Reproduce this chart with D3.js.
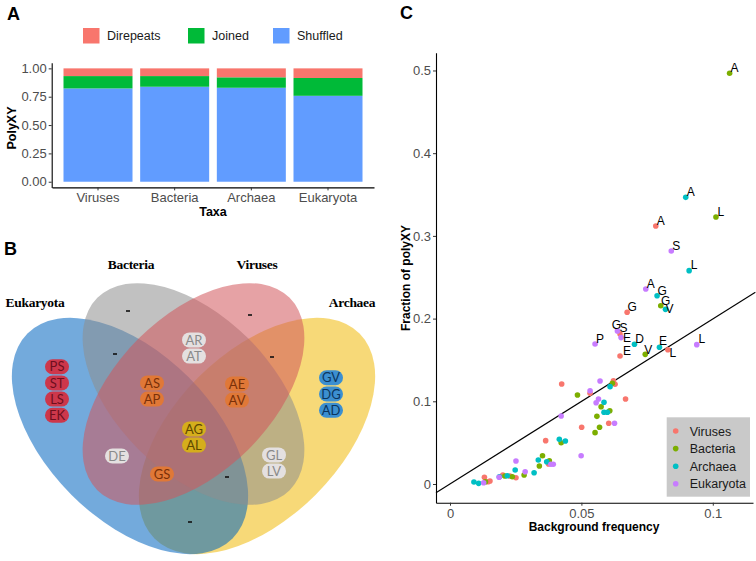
<!DOCTYPE html>
<html>
<head>
<meta charset="utf-8">
<title>PolyXY figure</title>
<script src="https://cdn.jsdelivr.net/npm/d3@7"></script>
<style>
  body { margin: 0; background: #fff; }
  text { font-family: "Liberation Sans", Arial, sans-serif; }
</style>
</head>
<body>
<svg id="fig" width="756" height="561"></svg>
<script>
// ---- panel A data
const taxa = ["Viruses", "Bacteria", "Archaea", "Eukaryota"]
const polyTypes = ["Direpeats", "Joined", "Shuffled"]
const shuffled = [0.823, 0.838, 0.829, 0.758]
const joined = [0.109, 0.094, 0.092, 0.157]
const direpeats = [0.068, 0.068, 0.079, 0.085]
const fracTicks = [0, 0.25, 0.5, 0.75, 1]

// ---- panel B data (venn of amino-acid pairs)
const vennSets = ["Eukaryota", "Bacteria", "Viruses", "Archaea"]
const vennRegions = [
  {sets: ["Eukaryota"], items: ["PS", "ST", "LS", "EK"]},
  {sets: ["Bacteria"], items: []},
  {sets: ["Viruses"], items: []},
  {sets: ["Archaea"], items: ["GV", "DG", "AD"]},
  {sets: ["Eukaryota", "Bacteria"], items: []},
  {sets: ["Viruses", "Archaea"], items: []},
  {sets: ["Bacteria", "Viruses"], items: ["AR", "AT"]},
  {sets: ["Eukaryota", "Viruses"], items: ["DE"]},
  {sets: ["Bacteria", "Archaea"], items: ["GL", "LV"]},
  {sets: ["Eukaryota", "Archaea"], items: []},
  {sets: ["Eukaryota", "Bacteria", "Viruses"], items: ["AS", "AP"]},
  {sets: ["Bacteria", "Viruses", "Archaea"], items: ["AE", "AV"]},
  {sets: ["Eukaryota", "Viruses", "Archaea"], items: ["GS"]},
  {sets: ["Eukaryota", "Bacteria", "Archaea"], items: []},
  {sets: ["Eukaryota", "Bacteria", "Viruses", "Archaea"], items: ["AG", "AL"]}
]

// ---- panel C data: [amino acid label ("" = unlabelled), background freq, fraction of polyXY]
const viruses = [
  ["A", 0.0783, 0.312], ["G", 0.0674, 0.2076], ["S", 0.0647, 0.1814], ["E", 0.0647, 0.1548], ["L", 0.0829, 0.1624],
  ["", 0.0425, 0.1209], ["", 0.0622, 0.1249], ["", 0.0628, 0.1206], ["", 0.0533, 0.1096], ["", 0.0668, 0.1028],
  ["", 0.0604, 0.0734], ["", 0.0501, 0.0686], ["", 0.0364, 0.0524], ["", 0.0375, 0.0242], ["", 0.0201, 0.0109],
  ["", 0.0228, 0.0097], ["", 0.0251, 0.0076], ["", 0.0152, 0.0036], ["", 0.0131, 0.0081], ["", 0.0145, 0.0028]
]
const bacteria = [
  ["A", 0.1064, 0.4966], ["L", 0.1012, 0.3229], ["G", 0.0802, 0.2156], ["V", 0.0743, 0.1568],
  ["", 0.0618, 0.1217], ["", 0.0485, 0.1076], ["", 0.0575, 0.0935], ["", 0.0608, 0.0886], ["", 0.0559, 0.0818],
  ["", 0.0569, 0.0686], ["", 0.0552, 0.0621], ["", 0.0423, 0.0499], ["", 0.0352, 0.0342], ["", 0.0378, 0.0282],
  ["", 0.034, 0.0218], ["", 0.0282, 0.0109], ["", 0.0209, 0.0097], ["", 0.0237, 0.0088], ["", 0.0135, 0.0028]
]
const archaea = [
  ["A", 0.0897, 0.3466], ["L", 0.091, 0.258], ["G", 0.0788, 0.2277], ["V", 0.082, 0.2112], ["D", 0.0702, 0.1689],
  ["E", 0.0797, 0.1653],
  ["", 0.0609, 0.1177], ["", 0.0586, 0.0988], ["", 0.0586, 0.0867], ["", 0.0599, 0.0867], ["", 0.0416, 0.054],
  ["", 0.0439, 0.052], ["", 0.0336, 0.029], ["", 0.0368, 0.027], ["", 0.0248, 0.0169], ["", 0.032, 0.0137],
  ["", 0.0188, 0.0088], ["", 0.0218, 0.01], ["", 0.0091, 0.0024], ["", 0.0109, 0.0008]
]
const eukaryota = [
  ["S", 0.0842, 0.2817], ["A", 0.0745, 0.2358], ["G", 0.0637, 0.185], ["E", 0.0651, 0.177], ["P", 0.0552, 0.1693],
  ["L", 0.0939, 0.1685],
  ["", 0.0571, 0.1245], ["", 0.0533, 0.1128], ["", 0.0565, 0.1028], ["", 0.0556, 0.0983], ["", 0.0423, 0.0822],
  ["", 0.0626, 0.0734], ["", 0.0499, 0.0342], ["", 0.0251, 0.0278], ["", 0.0384, 0.0238], ["", 0.0393, 0.0238],
  ["", 0.0286, 0.0149], ["", 0.0187, 0.0081], ["", 0.0128, 0.0016]
]
const fitLine = {slope: 1.995, intercept: 0.0001}
const freqTicks = [0, 0.05, 0.1]
const polyTicks = [0, 0.1, 0.2, 0.3, 0.4, 0.5]

// ---------------------------------------------------------------
const svg = d3.select("#fig")
svg.append("rect").attr("width", 756).attr("height", 561).attr("fill", "#fff")

const styleAxis = g => {
  g.select(".domain").attr("stroke", "#000").attr("stroke-width", 1.1)
  g.selectAll(".tick line").attr("stroke", "#333").attr("stroke-width", 1)
  g.selectAll(".tick text").attr("fill", "#4d4d4d").style("font-size", "13px")
    .style("font-family", '"Liberation Sans", Arial, sans-serif')
}
const panelLetter = (txt, x, y) => svg.append("text").attr("x", x).attr("y", y)
  .style("font-size", "18px").style("font-weight", "bold").text(txt)

// ---- A: stacked bars
const colA = d3.scaleOrdinal().domain(polyTypes).range(["#F8766D", "#00BA38", "#619CFF"])
const xA = d3.scaleBand().domain(taxa).range([52, 374]).paddingInner(0.1).paddingOuter(0.15)
const yA = d3.scaleLinear().domain([-0.05, 1.05]).range([187.4, 62.7])
const rowsA = taxa.map((t, i) => ({taxon: t, Shuffled: shuffled[i], Joined: joined[i], Direpeats: direpeats[i]}))
const stackA = d3.stack().keys(["Shuffled", "Joined", "Direpeats"])(rowsA)

const gA = svg.append("g")
gA.selectAll("g.layer").data(stackA).join("g").attr("class", "layer")
    .attr("fill", d => colA(d.key))
  .selectAll("rect").data(d => d).join("rect")
    .attr("x", d => xA(d.data.taxon))
    .attr("width", xA.bandwidth())
    .attr("y", d => yA(d[1]))
    .attr("height", d => yA(d[0]) - yA(d[1]))

gA.append("g").attr("transform", "translate(51.7,0)")
  .call(d3.axisLeft(yA).tickValues(fracTicks).tickFormat(d3.format(".2f")).tickSize(3).tickPadding(2).tickSizeOuter(0))
  .call(styleAxis)
gA.append("g").attr("transform", "translate(0,187.4)")
  .call(d3.axisBottom(xA).tickSize(3).tickPadding(2).tickSizeOuter(0))
  .call(styleAxis)

gA.append("text").attr("transform", "translate(16,128) rotate(-90)").attr("text-anchor", "middle")
  .style("font-size", "12.5px").style("font-weight", "bold").text("PolyXY")
gA.append("text").attr("x", 213).attr("y", 216).attr("text-anchor", "middle")
  .style("font-size", "12.5px").style("font-weight", "bold").text("Taxa")

const legA = gA.selectAll("g.leg").data(polyTypes).join("g").attr("class", "leg")
  .attr("transform", (d, i) => `translate(${[83, 188, 273][i]},28)`)
legA.append("rect").attr("width", 16.5).attr("height", 15.5).attr("fill", d => colA(d))
legA.append("text").attr("x", 24).attr("y", 8).attr("dy", "0.35em")
  .style("font-size", "12.5px").attr("fill", "#1a1a1a").text(d => d)

panelLetter("A", 7, 20)

// ---- B: four-set venn
const gB = svg.append("g")
const ellipses = {
  Archaea:   {cx: 257, cy: 436, rx: 145, ry: 83, rot: -45, fill: "#F0BA09"},
  Eukaryota: {cx: 130, cy: 436, rx: 145, ry: 83, rot: 45, fill: "#0064BF"},
  Bacteria:  {cx: 193.5, cy: 394, rx: 136, ry: 78, rot: 45, fill: "#8E8E8E"},
  Viruses:   {cx: 193.5, cy: 394, rx: 136, ry: 78, rot: -45, fill: "#D1565B"}
}
const drawOrder = ["Archaea", "Eukaryota", "Bacteria", "Viruses"]
gB.selectAll("ellipse").data(drawOrder).join("ellipse")
  .attr("rx", d => ellipses[d].rx).attr("ry", d => ellipses[d].ry)
  .attr("transform", d => `translate(${ellipses[d].cx},${ellipses[d].cy}) rotate(${ellipses[d].rot})`)
  .attr("fill", d => ellipses[d].fill).attr("fill-opacity", 0.55)

const setLabelPos = {Bacteria: [131, 269], Viruses: [257, 269], Eukaryota: [35, 307], Archaea: [352, 307]}
gB.selectAll("text.setlab").data(vennSets).join("text").attr("class", "setlab")
  .attr("x", d => setLabelPos[d][0]).attr("y", d => setLabelPos[d][1]).attr("text-anchor", "middle")
  .style("font-family", '"Liberation Serif", "DejaVu Serif", serif').style("font-weight", "bold")
  .style("font-size", "13.5px").style("letter-spacing", "-0.3px").text(d => d)

// region anchors (centre of the label stack) and pill styling
const regionLayout = {
  "Eukaryota": {pos: [57, 391], pill: "#CD374B", ink: "#6e0f1e"},
  "Bacteria": {pos: [128, 311]},
  "Viruses": {pos: [250, 315]},
  "Archaea": {pos: [331, 394], pill: "#3C8FD0", ink: "#0b355e"},
  "Eukaryota&Bacteria": {pos: [115, 354]},
  "Viruses&Archaea": {pos: [272, 357]},
  "Bacteria&Viruses": {pos: [194, 348], pill: "#E4E0E0", ink: "#8a8a8a"},
  "Eukaryota&Viruses": {pos: [117, 456], pill: "#E4E0E0", ink: "#8a8a8a"},
  "Bacteria&Archaea": {pos: [274, 463], pill: "#E4E0E0", ink: "#8a8a8a"},
  "Eukaryota&Archaea": {pos: [190, 522]},
  "Eukaryota&Bacteria&Viruses": {pos: [152, 391], pill: "#E07837", ink: "#7a3008"},
  "Bacteria&Viruses&Archaea": {pos: [237, 392], pill: "#E07837", ink: "#7a3008"},
  "Eukaryota&Viruses&Archaea": {pos: [162, 474], pill: "#E07837", ink: "#7a3008"},
  "Eukaryota&Bacteria&Archaea": {pos: [227, 477]},
  "Eukaryota&Bacteria&Viruses&Archaea": {pos: [194, 437], pill: "#D5AE1C", ink: "#5e4800"}
}
const step = 16.2
vennRegions.forEach(r => {
  const lay = regionLayout[r.sets.join("&")]
  const [cx, cy] = lay.pos
  if (r.items.length === 0) {
    gB.append("rect").attr("x", cx - 2).attr("y", cy - 0.8).attr("width", 4).attr("height", 1.6).attr("fill", "#111")
    return
  }
  const top = cy - (r.items.length - 1) * step / 2
  const g = gB.append("g")
  const rows = g.selectAll("g").data(r.items).join("g")
    .attr("transform", (d, i) => `translate(${cx},${top + i * step})`)
  rows.append("rect").attr("x", -12).attr("y", -7.5).attr("width", 24).attr("height", 15)
    .attr("rx", 7.5).attr("fill", lay.pill)
  rows.append("text").attr("text-anchor", "middle").attr("dy", "0.36em")
    .style("font-family", "Lato, 'Open Sans', sans-serif").style("font-size", "13px")
    .attr("fill", lay.ink).text(d => d)
})

panelLetter("B", 4, 255)

// ---- C: scatter
const groupsC = [
  {name: "Viruses", pts: viruses, color: "#F8766D"},
  {name: "Bacteria", pts: bacteria, color: "#7CAE00"},
  {name: "Archaea", pts: archaea, color: "#00BFC4"},
  {name: "Eukaryota", pts: eukaryota, color: "#C77CFF"}
]
const xC = d3.scaleLinear().domain([-0.00533, 0.1153]).range([436, 753])
const yC = d3.scaleLinear().domain([-0.0226, 0.5215]).range([502.7, 52.7])
const gC = svg.append("g")

gC.append("g").attr("transform", "translate(436,0)")
  .call(d3.axisLeft(yC).tickValues(polyTicks).tickFormat(d3.format("~g")).tickSize(3).tickPadding(2).tickSizeOuter(0))
  .call(styleAxis)
gC.append("g").attr("transform", "translate(0,502.7)")
  .call(d3.axisBottom(xC).tickValues(freqTicks).tickFormat(d3.format("~g")).tickSize(3).tickPadding(3).tickSizeOuter(0))
  .call(styleAxis)

const x0 = xC.domain()[0], x1 = 0.1162
gC.append("line")
  .attr("x1", xC(x0)).attr("y1", yC(fitLine.intercept + fitLine.slope * x0))
  .attr("x2", xC(x1)).attr("y2", yC(fitLine.intercept + fitLine.slope * x1))
  .attr("stroke", "#000").attr("stroke-width", 1.1)

const allPts = groupsC.flatMap(g => g.pts.map(p => ({group: g.name, color: g.color, aa: p[0], x: p[1], y: p[2]})))
gC.selectAll("circle.pt").data(allPts).join("circle").attr("class", "pt")
  .attr("cx", d => xC(d.x)).attr("cy", d => yC(d.y)).attr("r", 2.8).attr("fill", d => d.color)

// label nudges where the repel moved labels off the default spot
const nudge = {
  "Archaea-V": [4, -1], "Eukaryota-G": [-1, -6], "Viruses-S": [3.5, -6], "Eukaryota-E": [6, 0.5],
  "Viruses-L": [5, 3], "Viruses-E": [7, -5.5], "Bacteria-V": [3, -5], "Archaea-E": [3.5, -6.5]
}
gC.selectAll("text.aa").data(allPts.filter(d => d.aa)).join("text").attr("class", "aa")
  .attr("x", d => xC(d.x) + (nudge[d.group + "-" + d.aa] || [5, -5.5])[0])
  .attr("y", d => yC(d.y) + (nudge[d.group + "-" + d.aa] || [5, -5.5])[1])
  .attr("text-anchor", "middle").attr("dy", "0.36em")
  .style("font-size", "12px").attr("fill", "#000").text(d => d.aa)

gC.append("text").attr("transform", "translate(410,278) rotate(-90)").attr("text-anchor", "middle")
  .style("font-size", "12px").style("font-weight", "bold").text("Fraction of polyXY")
gC.append("text").attr("x", 594).attr("y", 531).attr("text-anchor", "middle")
  .style("font-size", "12px").style("font-weight", "bold").text("Background frequency")

const legC = gC.append("g")
legC.append("rect").attr("x", 666.7).attr("y", 417.3).attr("width", 83.3).attr("height", 79.4).attr("fill", "#C9C9C9")
const legRows = legC.selectAll("g.row").data(groupsC).join("g").attr("class", "row")
  .attr("transform", (d, i) => `translate(675.7,${431 + i * 17.6})`)
legRows.append("circle").attr("r", 2.8).attr("fill", d => d.color)
legRows.append("text").attr("x", 14).attr("dy", "0.36em").style("font-size", "12.5px")
  .attr("fill", "#1a1a1a").text(d => d.name)

panelLetter("C", 400, 19)
</script>
</body>
</html>
